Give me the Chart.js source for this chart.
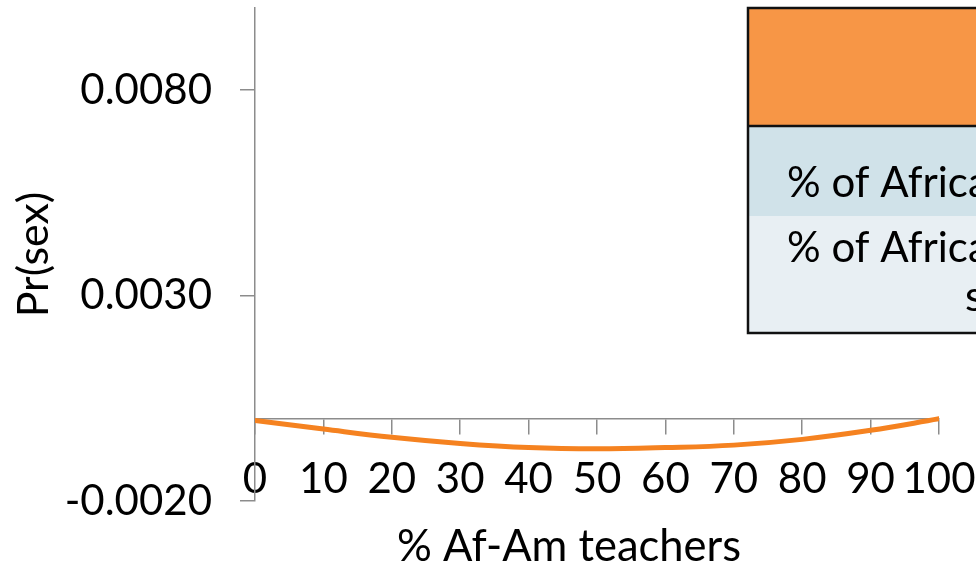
<!DOCTYPE html>
<html>
<head>
<meta charset="utf-8">
<script src="https://cdn.jsdelivr.net/npm/chart.js@4/dist/chart.umd.min.js"></script>
<style>
  html, body { margin: 0; padding: 0; background: #ffffff; overflow: hidden; }
  #wrap { width: 976px; height: 570px; position: relative; }
</style>
</head>
<body>
<div id="wrap"><canvas id="chart"></canvas></div>
<script>
// Predicted probability by share of African-American teachers
const teacherPct = [0, 10, 20, 30, 40, 50, 60, 70, 80, 90, 100];
const prSex = [-0.00004, -0.00025, -0.00045, -0.00060, -0.00070, -0.00073, -0.00070, -0.00064, -0.00050, -0.00028, 0.00000];
const yTickValues = [-0.0020, 0.0030, 0.0080];
const xTitle = '% Af-Am teachers';
const yTitle = 'Pr(sex)';
// Key table rows (first line / wrapped line)
const tableRows = [
  ['% of African-American teachers'],
  ['% of African-American', 'students']
];

const FONT = 'Lato, "Open Sans", sans-serif';
const AXIS_GREY = '#8c8c8c';

// Draws the x-axis title and the key table over the plot
const overlayPlugin = {
  id: 'overlay',
  afterDraw(chart) {
    const ctx = chart.ctx;
    ctx.save();
    // x-axis title
    ctx.font = '43.5px ' + FONT;
    ctx.fillStyle = '#000';
    ctx.textAlign = 'center';
    ctx.textBaseline = 'middle';
    ctx.fillText(xTitle, 569, 547);

    // key table
    const L = 748, T = 8, R = chart.width + 20;
    const hBot = 126, r1Bot = 216, B = 333;
    ctx.fillStyle = '#F79646';
    ctx.fillRect(L, T, R - L, hBot - T);
    ctx.fillStyle = '#D0E2E9';
    ctx.fillRect(L, hBot, R - L, r1Bot - hBot);
    ctx.fillStyle = '#E8EFF3';
    ctx.fillRect(L, r1Bot, R - L, B - r1Bot);
    ctx.strokeStyle = '#111';
    ctx.lineWidth = 2.5;
    ctx.strokeRect(L, T, R - L, B - T);
    ctx.beginPath();
    ctx.moveTo(L, hBot);
    ctx.lineTo(R, hBot);
    ctx.stroke();

    ctx.fillStyle = '#000';
    ctx.textAlign = 'left';
    ctx.textBaseline = 'alphabetic';
    ctx.font = '42px ' + FONT;
    ctx.fillText(tableRows[0][0], 787, 197);
    ctx.fillText(tableRows[1][0], 787, 262);
    ctx.fillText(tableRows[1][1], 965, 311);
    ctx.restore();
  }
};

new Chart(document.getElementById('chart'), {
  type: 'line',
  data: {
    datasets: [{
      data: teacherPct.map((x, i) => ({ x: x, y: prSex[i] })),
      borderColor: '#F58220',
      borderWidth: 5,
      borderCapStyle: 'round',
      tension: 0.4,
      pointRadius: 0,
      fill: false
    }]
  },
  options: {
    responsive: true,
    maintainAspectRatio: false,
    animation: false,
    layout: { padding: { left: 0, right: 37, top: 8, bottom: 69 } },
    plugins: { legend: { display: false }, tooltip: { enabled: false } },
    scales: {
      x: {
        type: 'linear',
        position: { y: 0 },
        min: 0,
        max: 100,
        afterFit(scale) {
          scale.paddingLeft = 0; scale.paddingRight = 0;
          scale.paddingTop = 0; scale.paddingBottom = 0;
        },
        ticks: {
          stepSize: 10,
          color: '#000',
          font: { family: FONT, size: 42 },
          padding: 20,
          maxRotation: 0,
          autoSkip: false
        },
        grid: {
          display: true,
          drawOnChartArea: false,
          drawTicks: true,
          tickLength: 15,
          color: AXIS_GREY,
          lineWidth: 1.5
        },
        border: { display: true, color: AXIS_GREY, width: 1.5 }
      },
      y: {
        type: 'linear',
        position: 'left',
        min: -0.002,
        max: 0.0100,
        afterBuildTicks(scale) {
          scale.ticks = yTickValues.map(v => ({ value: v }));
        },
        afterFit(scale) {
          scale.width = 255;
          scale.paddingTop = 0; scale.paddingBottom = 0;
          scale.paddingLeft = 0; scale.paddingRight = 0;
        },
        ticks: {
          color: '#000',
          font: { family: FONT, size: 42 },
          padding: 28,
          callback: v => Number(v).toFixed(4)
        },
        title: {
          display: true,
          text: yTitle,
          color: '#000',
          font: { family: FONT, size: 43 },
          padding: { top: 8, bottom: 0 }
        },
        grid: {
          display: true,
          drawOnChartArea: false,
          drawTicks: true,
          tickLength: 15,
          color: AXIS_GREY,
          lineWidth: 1.5
        },
        border: { display: true, color: AXIS_GREY, width: 1.5 }
      }
    }
  },
  plugins: [overlayPlugin]
});
</script>
</body>
</html>
